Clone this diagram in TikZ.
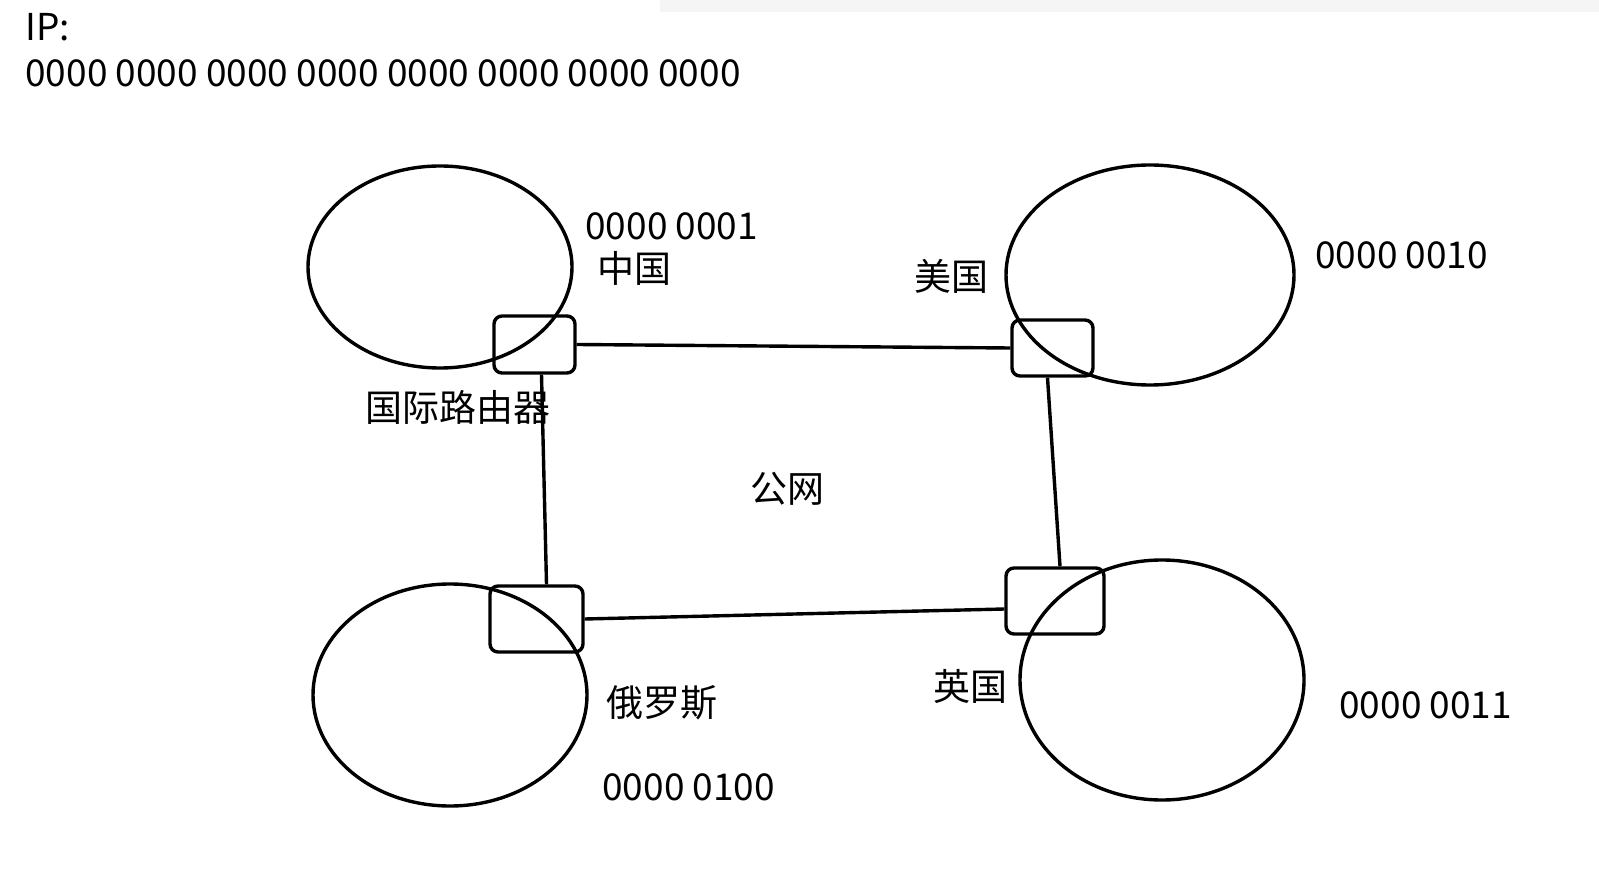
\documentclass[tikz,border=0pt]{standalone}
\usepackage{fontspec}
\setmainfont{Noto Sans CJK SC}
\begin{document}
\begin{tikzpicture}[x=0.5pt,y=-0.5pt,
  ln/.style={line width=1.7pt},
  rt/.style={draw,line width=1.7pt,rounded corners=4pt,minimum width=0pt,inner sep=0pt},
  lb/.style={anchor=west,inner sep=0pt,font=\fontsize{18.5}{22}\selectfont}]
\useasboundingbox[fill=white] (0,0) rectangle (1599,881);
\fill[gray!8] (660,0) rectangle (1599,12);
\draw[ln] (440,267) ellipse [x radius=132,y radius=101];
\draw[ln] (1150,275) ellipse [x radius=144,y radius=110];
\draw[ln] (450,695) ellipse [x radius=137,y radius=111];
\draw[ln] (1162,680) ellipse [x radius=142,y radius=120];
\node[rt,minimum width=40.5pt,minimum height=28.5pt] (cn) at (534.5,344.5) {};
\node[rt,minimum width=40.5pt,minimum height=28pt] (us) at (1052.5,348) {};
\node[rt,minimum width=46.5pt,minimum height=33pt] (ru) at (536.5,619) {};
\node[rt,minimum width=49pt,minimum height=33pt] (uk) at (1055,601) {};
\draw[ln] (cn.east) -- (us.west);
\draw[ln] ([xshift=3.5pt]cn.south) -- ([xshift=5pt]ru.north);
\draw[ln] ([xshift=-2.5pt]us.south) -- ([xshift=2.5pt]uk.north);
\draw[ln] (ru.east) -- ([yshift=-4pt]uk.west);
\node[lb] (ip) at (25,27) {IP:};
\node[lb] (bits) at (25,73) {0000 0000 0000 0000 0000 0000 0000 0000};
\node[lb] (a1) at (585,226) {0000 0001};
\node[lb] (zg) at (597,268) {中国};
\node[lb] (mg) at (914,276) {美国};
\node[lb] (a2) at (1315,255) {0000 0010};
\node[lb] (gj) at (365,407) {国际路由器};
\node[lb] (gw) at (750,489) {公网};
\node[lb] (els) at (606,703) {俄罗斯};
\node[lb] (yg) at (933,686) {英国};
\node[lb] (a3) at (1339,705) {0000 0011};
\node[lb] (a4) at (602,787) {0000 0100};
\end{tikzpicture}
\end{document}
